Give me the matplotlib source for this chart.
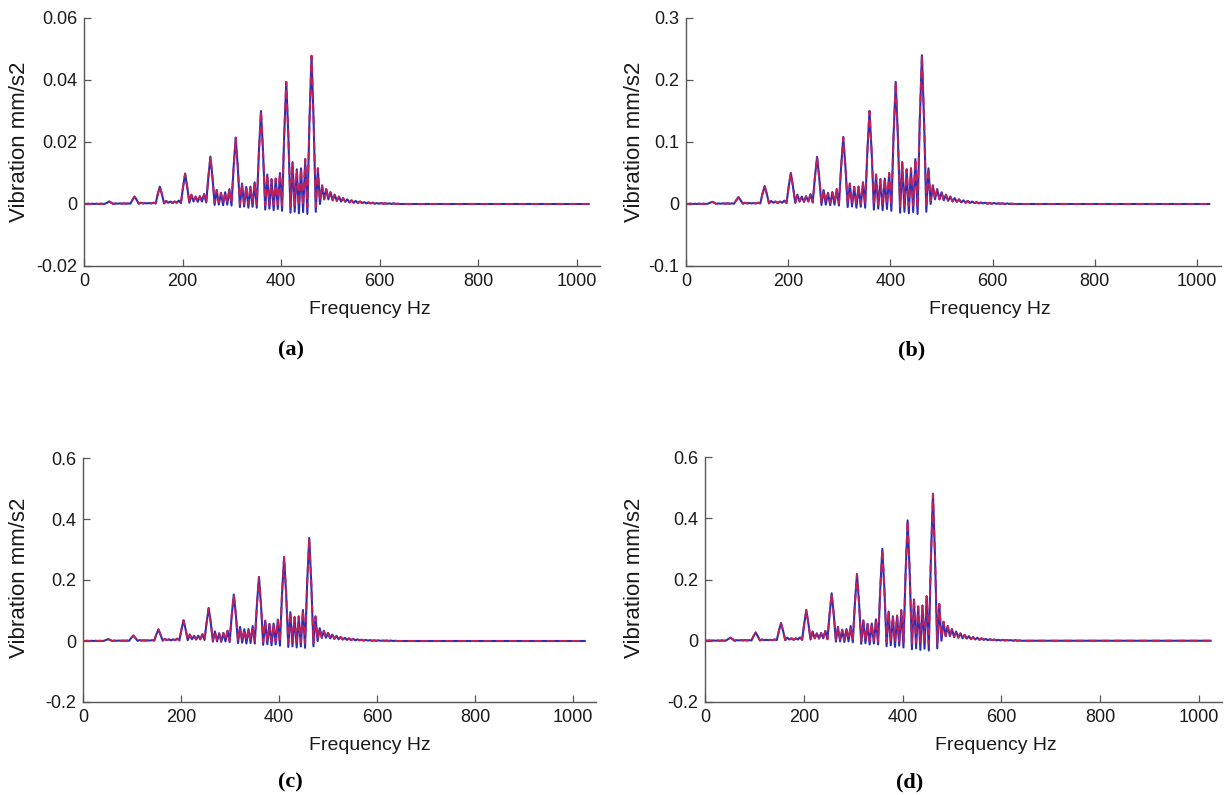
import matplotlib
matplotlib.use("Agg")
import matplotlib.pyplot as plt
from matplotlib import font_manager

# ---------------- data ----------------
freq = [0.0, 4.3, 8.6, 12.8, 17.1, 21.4, 25.7, 29.9, 34.2, 38.5, 42.8, 47.0,
        51.3, 55.6, 59.9, 64.1, 68.4, 72.7, 77.0, 81.2, 85.5, 89.8, 94.1, 98.3,
        102.6, 106.9, 111.2, 115.4, 119.7, 124.0, 128.3, 132.5, 136.8, 141.1, 145.4, 149.6,
        153.9, 158.2, 162.5, 166.7, 171.0, 175.3, 179.6, 183.8, 188.1, 192.4, 196.7, 200.9,
        205.2, 209.5, 213.8, 218.0, 222.3, 226.6, 230.9, 235.1, 239.4, 243.7, 248.0, 252.2,
        256.5, 260.8, 265.1, 269.3, 273.6, 277.9, 282.2, 286.4, 290.7, 295.0, 299.3, 303.5,
        307.8, 312.1, 316.4, 320.6, 324.9, 329.2, 333.5, 337.7, 342.0, 346.3, 350.6, 354.8,
        359.1, 363.4, 367.7, 371.9, 376.2, 380.5, 384.8, 389.0, 393.3, 397.6, 401.9, 406.1,
        410.4, 414.7, 419.0, 423.2, 427.5, 431.8, 436.1, 440.3, 444.6, 448.9, 453.2, 457.4,
        461.7, 466.0, 470.3, 474.5, 478.8, 483.1, 487.4, 491.6, 495.9, 500.2, 504.5, 508.7,
        513.0, 517.3, 521.6, 525.8, 530.1, 534.4, 538.7, 542.9, 547.2, 551.5, 555.8, 560.0,
        564.3, 568.6, 572.9, 577.1, 581.4, 585.7, 590.0, 594.2, 598.5, 602.8, 607.1, 611.3,
        615.6, 619.9, 624.2, 628.4, 632.7, 637.0, 641.3,
        700.0, 800.0, 900.0, 1024.0]

# (a)
a_red = [0.0001, 0.0000, 0.0001, 0.0000, 0.0001, 0.0000, 0.0001, 0.0000, 0.0001, 0.0000, 0.0001, 0.0004,
         0.0008, 0.0004, 0.0000, 0.0002, 0.0001, 0.0002, 0.0001, 0.0002, 0.0001, 0.0002, 0.0001, 0.0013,
         0.0024, 0.0013, 0.0001, 0.0004, 0.0002, 0.0003, 0.0002, 0.0003, 0.0002, 0.0004, 0.0002, 0.0031,
         0.0056, 0.0031, 0.0002, 0.0010, 0.0004, 0.0008, 0.0003, 0.0008, 0.0004, 0.0011, 0.0003, 0.0054,
         0.0098, 0.0054, 0.0004, 0.0030, 0.0008, 0.0024, 0.0007, 0.0025, 0.0008, 0.0032, 0.0005, 0.0084,
         0.0153, 0.0084, 0.0003, 0.0045, 0.0005, 0.0036, 0.0004, 0.0038, 0.0005, 0.0048, 0.0002, 0.0118,
         0.0214, 0.0118, 0.0000, 0.0066, 0.0001, 0.0055, 0.0000, 0.0056, 0.0001, 0.0070, -0.0002, 0.0165,
         0.0300, 0.0165, -0.0004, 0.0095, -0.0002, 0.0080, -0.0003, 0.0082, -0.0002, 0.0100, -0.0005, 0.0217,
         0.0394, 0.0217, -0.0008, 0.0135, -0.0005, 0.0112, -0.0006, 0.0115, -0.0005, 0.0145, -0.0010, 0.0263,
         0.0478, 0.0263, -0.0010, 0.0115, 0.0010, 0.0060, 0.0015, 0.0048, 0.0015, 0.0038, 0.0012, 0.0030,
         0.0010, 0.0024, 0.0008, 0.0019, 0.0007, 0.0015, 0.0005, 0.0012, 0.0004, 0.0010, 0.0003, 0.0008,
         0.0003, 0.0006, 0.0002, 0.0005, 0.0002, 0.0004, 0.0001, 0.0003, 0.0001, 0.0003, 0.0001, 0.0002,
         0.0001, 0.0002, 0.0000, 0.0002, 0.0000, 0.0001, 0.0000,
         0.0, 0.0, 0.0, 0.0]
a_blue = [0.0001, 0.0000, 0.0001, 0.0000, 0.0001, 0.0000, 0.0001, 0.0000, 0.0001, 0.0000, 0.0001, 0.0004,
          0.0008, 0.0004, 0.0000, 0.0002, 0.0001, 0.0002, 0.0001, 0.0002, 0.0001, 0.0002, 0.0001, 0.0013,
          0.0024, 0.0013, 0.0001, 0.0004, 0.0002, 0.0003, 0.0002, 0.0003, 0.0002, 0.0004, 0.0002, 0.0031,
          0.0056, 0.0031, 0.0002, 0.0010, 0.0004, 0.0008, 0.0003, 0.0008, 0.0004, 0.0011, 0.0003, 0.0054,
          0.0098, 0.0054, 0.0004, 0.0030, 0.0008, 0.0024, 0.0007, 0.0025, 0.0008, 0.0032, 0.0005, 0.0084,
          0.0153, 0.0084, -0.0003, 0.0045, -0.0002, 0.0036, -0.0004, 0.0038, -0.0002, 0.0048, -0.0005, 0.0118,
          0.0214, 0.0118, -0.0010, 0.0066, -0.0008, 0.0055, -0.0012, 0.0056, -0.0009, 0.0070, -0.0012, 0.0165,
          0.0300, 0.0165, -0.0018, 0.0095, -0.0015, 0.0080, -0.0020, 0.0082, -0.0016, 0.0100, -0.0022, 0.0217,
          0.0394, 0.0217, -0.0028, 0.0135, -0.0025, 0.0112, -0.0030, 0.0115, -0.0026, 0.0145, -0.0032, 0.0263,
          0.0478, 0.0263, -0.0025, 0.0115, 0.0000, 0.0060, 0.0015, 0.0048, 0.0015, 0.0038, 0.0012, 0.0030,
          0.0010, 0.0024, 0.0008, 0.0019, 0.0007, 0.0015, 0.0005, 0.0012, 0.0004, 0.0010, 0.0003, 0.0008,
          0.0003, 0.0006, 0.0002, 0.0005, 0.0002, 0.0004, 0.0001, 0.0003, 0.0001, 0.0003, 0.0001, 0.0002,
          0.0001, 0.0002, 0.0000, 0.0002, 0.0000, 0.0001, 0.0000,
          0.0, 0.0, 0.0, 0.0]

# (b)
b_red = [0.0005, 0.0000, 0.0005, 0.0000, 0.0005, 0.0000, 0.0005, 0.0000, 0.0005, 0.0000, 0.0005, 0.0019,
         0.0035, 0.0019, 0.0000, 0.0010, 0.0005, 0.0010, 0.0005, 0.0010, 0.0005, 0.0010, 0.0005, 0.0060,
         0.0110, 0.0060, 0.0005, 0.0020, 0.0010, 0.0015, 0.0010, 0.0015, 0.0010, 0.0020, 0.0010, 0.0160,
         0.0290, 0.0160, 0.0010, 0.0050, 0.0020, 0.0040, 0.0015, 0.0040, 0.0020, 0.0055, 0.0015, 0.0275,
         0.0500, 0.0275, 0.0020, 0.0150, 0.0040, 0.0120, 0.0035, 0.0125, 0.0040, 0.0160, 0.0025, 0.0420,
         0.0760, 0.0420, 0.0015, 0.0225, 0.0025, 0.0180, 0.0020, 0.0190, 0.0025, 0.0240, 0.0010, 0.0590,
         0.1080, 0.0590, 0.0000, 0.0330, 0.0005, 0.0275, 0.0000, 0.0280, 0.0005, 0.0350, -0.0010, 0.0825,
         0.1500, 0.0825, -0.0020, 0.0475, -0.0010, 0.0400, -0.0015, 0.0410, -0.0010, 0.0500, -0.0025, 0.1080,
         0.1970, 0.1080, -0.0040, 0.0675, -0.0025, 0.0560, -0.0030, 0.0575, -0.0025, 0.0725, -0.0050, 0.1320,
         0.2400, 0.1320, -0.0050, 0.0575, 0.0050, 0.0300, 0.0075, 0.0240, 0.0075, 0.0190, 0.0060, 0.0150,
         0.0050, 0.0120, 0.0040, 0.0095, 0.0035, 0.0075, 0.0025, 0.0060, 0.0020, 0.0050, 0.0015, 0.0040,
         0.0015, 0.0030, 0.0010, 0.0025, 0.0010, 0.0020, 0.0005, 0.0015, 0.0005, 0.0015, 0.0005, 0.0010,
         0.0005, 0.0010, 0.0000, 0.0010, 0.0000, 0.0005, 0.0000,
         0.0, 0.0, 0.0, 0.0]
b_blue = [0.0005, 0.0000, 0.0005, 0.0000, 0.0005, 0.0000, 0.0005, 0.0000, 0.0005, 0.0000, 0.0005, 0.0019,
          0.0035, 0.0019, 0.0000, 0.0010, 0.0005, 0.0010, 0.0005, 0.0010, 0.0005, 0.0010, 0.0005, 0.0060,
          0.0110, 0.0060, 0.0005, 0.0020, 0.0010, 0.0015, 0.0010, 0.0015, 0.0010, 0.0020, 0.0010, 0.0160,
          0.0290, 0.0160, 0.0010, 0.0050, 0.0020, 0.0040, 0.0015, 0.0040, 0.0020, 0.0055, 0.0015, 0.0275,
          0.0500, 0.0275, 0.0020, 0.0150, 0.0040, 0.0120, 0.0035, 0.0125, 0.0040, 0.0160, 0.0025, 0.0420,
          0.0760, 0.0420, -0.0015, 0.0225, -0.0010, 0.0180, -0.0020, 0.0190, -0.0010, 0.0240, -0.0025, 0.0590,
          0.1080, 0.0590, -0.0050, 0.0330, -0.0040, 0.0275, -0.0060, 0.0280, -0.0045, 0.0350, -0.0060, 0.0825,
          0.1500, 0.0825, -0.0090, 0.0475, -0.0075, 0.0400, -0.0100, 0.0410, -0.0080, 0.0500, -0.0110, 0.1080,
          0.1970, 0.1080, -0.0140, 0.0675, -0.0125, 0.0560, -0.0150, 0.0575, -0.0130, 0.0725, -0.0160, 0.1320,
          0.2400, 0.1320, -0.0125, 0.0575, 0.0000, 0.0300, 0.0075, 0.0240, 0.0075, 0.0190, 0.0060, 0.0150,
          0.0050, 0.0120, 0.0040, 0.0095, 0.0035, 0.0075, 0.0025, 0.0060, 0.0020, 0.0050, 0.0015, 0.0040,
          0.0015, 0.0030, 0.0010, 0.0025, 0.0010, 0.0020, 0.0005, 0.0015, 0.0005, 0.0015, 0.0005, 0.0010,
          0.0005, 0.0010, 0.0000, 0.0010, 0.0000, 0.0005, 0.0000,
          0.0, 0.0, 0.0, 0.0]

# (c)
c_red = [0.0007, 0.0000, 0.0007, 0.0000, 0.0007, 0.0000, 0.0007, 0.0000, 0.0007, 0.0000, 0.0007, 0.0033,
         0.0060, 0.0033, 0.0000, 0.0014, 0.0007, 0.0014, 0.0007, 0.0014, 0.0007, 0.0014, 0.0007, 0.0099,
         0.0180, 0.0099, 0.0007, 0.0028, 0.0014, 0.0021, 0.0014, 0.0021, 0.0014, 0.0028, 0.0014, 0.0209,
         0.0380, 0.0209, 0.0014, 0.0070, 0.0028, 0.0056, 0.0021, 0.0056, 0.0028, 0.0077, 0.0021, 0.0374,
         0.0680, 0.0374, 0.0028, 0.0210, 0.0056, 0.0168, 0.0049, 0.0175, 0.0056, 0.0224, 0.0035, 0.0594,
         0.1080, 0.0594, 0.0021, 0.0315, 0.0035, 0.0252, 0.0028, 0.0266, 0.0035, 0.0336, 0.0014, 0.0836,
         0.1520, 0.0836, 0.0000, 0.0462, 0.0007, 0.0385, 0.0000, 0.0392, 0.0007, 0.0490, -0.0014, 0.1155,
         0.2100, 0.1155, -0.0028, 0.0665, -0.0014, 0.0560, -0.0021, 0.0574, -0.0014, 0.0700, -0.0035, 0.1510,
         0.2750, 0.1510, -0.0056, 0.0945, -0.0035, 0.0784, -0.0042, 0.0805, -0.0035, 0.1015, -0.0070, 0.1860,
         0.3380, 0.1860, -0.0070, 0.0805, 0.0070, 0.0420, 0.0105, 0.0336, 0.0105, 0.0266, 0.0084, 0.0210,
         0.0070, 0.0168, 0.0056, 0.0133, 0.0049, 0.0105, 0.0035, 0.0084, 0.0028, 0.0070, 0.0021, 0.0056,
         0.0021, 0.0042, 0.0014, 0.0035, 0.0014, 0.0028, 0.0007, 0.0021, 0.0007, 0.0021, 0.0007, 0.0014,
         0.0007, 0.0014, 0.0000, 0.0014, 0.0000, 0.0007, 0.0000,
         0.0, 0.0, 0.0, 0.0]
c_blue = [0.0007, 0.0000, 0.0007, 0.0000, 0.0007, 0.0000, 0.0007, 0.0000, 0.0007, 0.0000, 0.0007, 0.0033,
          0.0060, 0.0033, 0.0000, 0.0014, 0.0007, 0.0014, 0.0007, 0.0014, 0.0007, 0.0014, 0.0007, 0.0099,
          0.0180, 0.0099, 0.0007, 0.0028, 0.0014, 0.0021, 0.0014, 0.0021, 0.0014, 0.0028, 0.0014, 0.0209,
          0.0380, 0.0209, 0.0014, 0.0070, 0.0028, 0.0056, 0.0021, 0.0056, 0.0028, 0.0077, 0.0021, 0.0374,
          0.0680, 0.0374, 0.0028, 0.0210, 0.0056, 0.0168, 0.0049, 0.0175, 0.0056, 0.0224, 0.0035, 0.0594,
          0.1080, 0.0594, -0.0021, 0.0315, -0.0014, 0.0252, -0.0028, 0.0266, -0.0014, 0.0336, -0.0035, 0.0836,
          0.1520, 0.0836, -0.0070, 0.0462, -0.0056, 0.0385, -0.0084, 0.0392, -0.0063, 0.0490, -0.0084, 0.1155,
          0.2100, 0.1155, -0.0126, 0.0665, -0.0105, 0.0560, -0.0140, 0.0574, -0.0112, 0.0700, -0.0154, 0.1510,
          0.2750, 0.1510, -0.0196, 0.0945, -0.0175, 0.0784, -0.0210, 0.0805, -0.0182, 0.1015, -0.0224, 0.1860,
          0.3380, 0.1860, -0.0175, 0.0805, 0.0000, 0.0420, 0.0105, 0.0336, 0.0105, 0.0266, 0.0084, 0.0210,
          0.0070, 0.0168, 0.0056, 0.0133, 0.0049, 0.0105, 0.0035, 0.0084, 0.0028, 0.0070, 0.0021, 0.0056,
          0.0021, 0.0042, 0.0014, 0.0035, 0.0014, 0.0028, 0.0007, 0.0021, 0.0007, 0.0021, 0.0007, 0.0014,
          0.0007, 0.0014, 0.0000, 0.0014, 0.0000, 0.0007, 0.0000,
          0.0, 0.0, 0.0, 0.0]

# (d)
d_red = [0.001, 0.000, 0.001, 0.000, 0.001, 0.000, 0.001, 0.000, 0.001, 0.000, 0.001, 0.0055,
         0.010, 0.0055, 0.000, 0.002, 0.001, 0.002, 0.001, 0.002, 0.001, 0.002, 0.001, 0.015,
         0.027, 0.015, 0.001, 0.004, 0.002, 0.003, 0.002, 0.003, 0.002, 0.004, 0.002, 0.032,
         0.058, 0.032, 0.002, 0.010, 0.004, 0.008, 0.003, 0.008, 0.004, 0.011, 0.003, 0.055,
         0.100, 0.055, 0.004, 0.030, 0.008, 0.024, 0.007, 0.025, 0.008, 0.032, 0.005, 0.085,
         0.155, 0.085, 0.003, 0.045, 0.005, 0.036, 0.004, 0.038, 0.005, 0.048, 0.002, 0.120,
         0.218, 0.120, 0.000, 0.066, 0.001, 0.055, 0.000, 0.056, 0.001, 0.070, -0.002, 0.165,
         0.300, 0.165, -0.004, 0.095, -0.002, 0.080, -0.003, 0.082, -0.002, 0.100, -0.005, 0.216,
         0.393, 0.216, -0.008, 0.135, -0.005, 0.112, -0.006, 0.115, -0.005, 0.145, -0.010, 0.264,
         0.480, 0.264, -0.010, 0.120, 0.010, 0.062, 0.015, 0.048, 0.015, 0.038, 0.012, 0.030,
         0.010, 0.024, 0.008, 0.019, 0.007, 0.015, 0.005, 0.012, 0.004, 0.010, 0.003, 0.008,
         0.003, 0.006, 0.002, 0.005, 0.002, 0.004, 0.001, 0.003, 0.001, 0.003, 0.001, 0.002,
         0.001, 0.002, 0.000, 0.002, 0.000, 0.001, 0.000,
         0.0, 0.0, 0.0, 0.0]
d_blue = [0.001, 0.000, 0.001, 0.000, 0.001, 0.000, 0.001, 0.000, 0.001, 0.000, 0.001, 0.0055,
          0.010, 0.0055, 0.000, 0.002, 0.001, 0.002, 0.001, 0.002, 0.001, 0.002, 0.001, 0.015,
          0.027, 0.015, 0.001, 0.004, 0.002, 0.003, 0.002, 0.003, 0.002, 0.004, 0.002, 0.032,
          0.058, 0.032, 0.002, 0.010, 0.004, 0.008, 0.003, 0.008, 0.004, 0.011, 0.003, 0.055,
          0.100, 0.055, 0.004, 0.030, 0.008, 0.024, 0.007, 0.025, 0.008, 0.032, 0.005, 0.085,
          0.155, 0.085, -0.003, 0.045, -0.002, 0.036, -0.004, 0.038, -0.002, 0.048, -0.005, 0.120,
          0.218, 0.120, -0.010, 0.066, -0.008, 0.055, -0.012, 0.056, -0.009, 0.070, -0.012, 0.165,
          0.300, 0.165, -0.018, 0.095, -0.015, 0.080, -0.020, 0.082, -0.016, 0.100, -0.022, 0.216,
          0.393, 0.216, -0.028, 0.135, -0.025, 0.112, -0.030, 0.115, -0.026, 0.145, -0.032, 0.264,
          0.480, 0.264, -0.025, 0.120, 0.000, 0.062, 0.015, 0.048, 0.015, 0.038, 0.012, 0.030,
          0.010, 0.024, 0.008, 0.019, 0.007, 0.015, 0.005, 0.012, 0.004, 0.010, 0.003, 0.008,
          0.003, 0.006, 0.002, 0.005, 0.002, 0.004, 0.001, 0.003, 0.001, 0.003, 0.001, 0.002,
          0.001, 0.002, 0.000, 0.002, 0.000, 0.001, 0.000,
          0.0, 0.0, 0.0, 0.0]

x_ticks = [0, 200, 400, 600, 800, 1000]
x_ticklabels = ["0", "200", "400", "600", "800", "1000"]
a_yticks = [-0.02, 0, 0.02, 0.04, 0.06]
a_yticklabels = ["-0.02", "0", "0.02", "0.04", "0.06"]
b_yticks = [-0.1, 0, 0.1, 0.2, 0.3]
b_yticklabels = ["-0.1", "0", "0.1", "0.2", "0.3"]
cd_yticks = [-0.2, 0, 0.2, 0.4, 0.6]
cd_yticklabels = ["-0.2", "0", "0.2", "0.4", "0.6"]
captions = ["(a)", "(b)", "(c)", "(d)"]
x_label = "Frequency Hz"
y_label = "Vibration mm/s2"

# ---------------- layout / style ----------------
W, H = 1231, 795
fig = plt.figure(figsize=(W / 100, H / 100), dpi=100)
fig.patch.set_facecolor("white")

installed = {f.name for f in font_manager.fontManager.ttflist}
narrow = ["Liberation Sans Narrow", "Liberation Sans"] if "Liberation Sans Narrow" in installed else ["Liberation Sans"]
sans = ["Liberation Sans", "DejaVu Sans"]
serif = ["Liberation Serif", "DejaVu Serif"]

def rect(left, top, right, bottom):
    return [left / W, 1 - bottom / H, (right - left) / W, (bottom - top) / H]

panels = [
    dict(r=rect(84, 18, 600, 266), ylim=(-0.02, 0.06), yt=a_yticks, ytl=a_yticklabels,
         red=a_red, blue=a_blue, cap=(291, 350), xl=(370, 310), yl=(20, 142)),
    dict(r=rect(686, 18, 1221, 266), ylim=(-0.1, 0.3), yt=b_yticks, ytl=b_yticklabels,
         red=b_red, blue=b_blue, cap=(912, 350), xl=(990, 310), yl=(634, 142)),
    dict(r=rect(83, 458, 596, 702), ylim=(-0.2, 0.6), yt=cd_yticks, ytl=cd_yticklabels,
         red=c_red, blue=c_blue, cap=(290, 782), xl=(370, 746), yl=(20, 578)),
    dict(r=rect(705, 457, 1222, 702), ylim=(-0.2, 0.6), yt=cd_yticks, ytl=cd_yticklabels,
         red=d_red, blue=d_blue, cap=(910, 782), xl=(996, 746), yl=(634, 578)),
]

for p, cap in zip(panels, captions):
    ax = fig.add_axes(p["r"])
    ax.plot(freq, p["blue"], color="#2e2eb4", lw=1.5, solid_joinstyle="round")
    ax.plot(freq, p["red"], color="#bf1f5a", lw=1.4, linestyle=(0, (4, 2.5)))
    ax.set_xlim(0, 1047)
    ax.set_ylim(*p["ylim"])
    ax.set_xticks(x_ticks)
    ax.set_xticklabels(x_ticklabels)
    ax.set_yticks(p["yt"])
    ax.set_yticklabels(p["ytl"])
    for s in ("top", "right"):
        ax.spines[s].set_visible(False)
    for s in ("left", "bottom"):
        ax.spines[s].set_color("#555555")
        ax.spines[s].set_linewidth(1.0)
    ax.tick_params(direction="in", length=5, width=0.9, color="#555555",
                   labelcolor="#1a1a1a", pad=5)
    for lab in ax.get_xticklabels() + ax.get_yticklabels():
        lab.set_family(narrow)
        lab.set_fontsize(13)
    fig.text(p["xl"][0] / W, 1 - p["xl"][1] / H, x_label, ha="center", va="center",
             fontsize=14, family=narrow, color="#1a1a1a")
    fig.text(p["yl"][0] / W, 1 - p["yl"][1] / H, y_label, ha="center", va="center",
             rotation=90, fontsize=16, family=sans, color="#1a1a1a")
    fig.text(p["cap"][0] / W, 1 - p["cap"][1] / H, cap, ha="center", va="center",
             fontsize=16, family=serif, fontweight="bold", color="black")

fig.savefig("out.png", dpi=100, facecolor="white")
